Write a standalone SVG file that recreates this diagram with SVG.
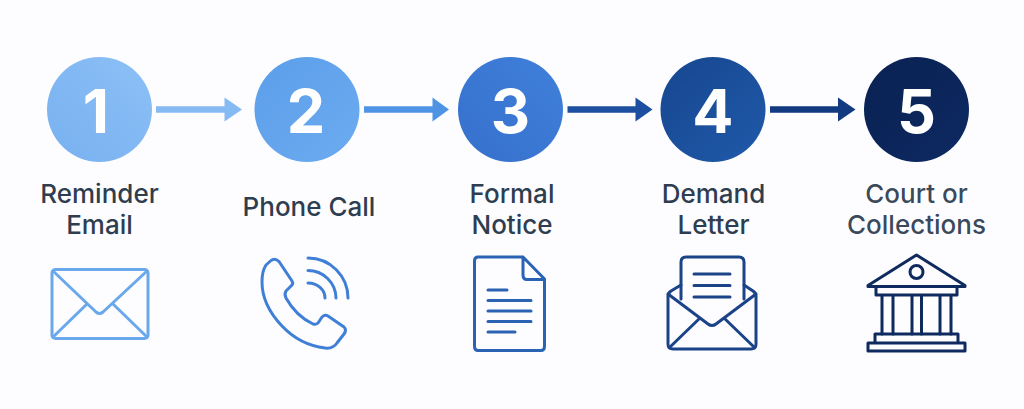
<svg xmlns="http://www.w3.org/2000/svg" width="1024" height="409" viewBox="0 0 1024 409">
<style>
.d{font-family:Inter,"Liberation Sans",sans-serif;font-weight:700;font-size:61px;fill:#fff;text-anchor:middle}
.l{font-family:Inter,"Liberation Sans",sans-serif;font-weight:500;font-size:26px;fill:#2f3d50;text-anchor:middle}
.i{fill:none;stroke-width:3;stroke-linecap:round;stroke-linejoin:round}
</style>
<defs>
<linearGradient id="g1" x1="0" y1="1" x2="1" y2="0"><stop offset="0" stop-color="#78b1f0"/><stop offset="1" stop-color="#8cc0f6"/></linearGradient>
<linearGradient id="g2" x1="0" y1="0" x2="1" y2="1"><stop offset="0" stop-color="#5b9eea"/><stop offset="1" stop-color="#6cabf0"/></linearGradient>
<linearGradient id="g3" x1="0" y1="1" x2="1" y2="0"><stop offset="0" stop-color="#3670cc"/><stop offset="1" stop-color="#3f80da"/></linearGradient>
<linearGradient id="g4" x1="0" y1="0" x2="1" y2="1"><stop offset="0" stop-color="#17468f"/><stop offset="1" stop-color="#1f5aaa"/></linearGradient>
<linearGradient id="g5" x1="0" y1="0" x2="1" y2="1"><stop offset="0" stop-color="#0a2152"/><stop offset="1" stop-color="#0d2a62"/></linearGradient>
</defs>
<rect width="1024" height="409" fill="#fdfdff"/>
<g id="connectors">
<path fill="#85baf3" d="M156 106.200H224.500V97.500L242 109.500L224.500 121.500V112.800H156Z"/>
<path fill="#4f93e4" d="M364 106.200H432.500V97.500L449 109.500L432.500 121.500V112.800H364Z"/>
<path fill="#1c4f9f" d="M567.500 106.200H635.500V97.500L652.500 109.500L635.500 121.500V112.800H567.500Z"/>
<path fill="#123a80" d="M770 106.200H838V97.500L855.500 109.500L838 121.500V112.800H770Z"/>
</g>
<g id="node1">
<circle cx="99.500" cy="109.500" r="52.500" fill="url(#g1)"/>
<text class="d" x="96" y="133">1</text>
<text class="l" x="99.500" y="203">Reminder</text>
<text class="l" x="99.500" y="234">Email</text>
<g class="i" stroke="#6aa8ec">
<rect x="52" y="269.500" width="96" height="69" rx="3.500"/>
<path d="M53 271L96 312Q99.500 315 103 312L147 271M53 337L87 304M147 337L113 304"/>
</g>
</g>
<g id="node2">
<circle cx="307" cy="109.500" r="52.500" fill="url(#g2)"/>
<text class="d" x="306" y="133">2</text>
<text class="l" x="309" y="215.500">Phone Call</text>
<g class="i" stroke="#3f7fd6">
<path d="M266 265L271 260.500Q275 257.500 279 261.500L292 281Q294 284 291 286L286 291Q284 294 286 298Q296 316 313 324Q316 325 318 323L322 317Q325 314 328 316L344 327Q347 330 344 334L337 343Q333 349 325 348Q300 345 282 326Q262 305 262 282Q262 271 266 265Z"/>
<path d="M308 258A40 40 0 0 1 348 298M308 270.500A28 28 0 0 1 336 298M308 283A17 15 0 0 1 325 298"/>
</g>
</g>
<g id="node3">
<circle cx="510.500" cy="109.500" r="52.500" fill="url(#g3)"/>
<text class="d" x="510.500" y="133">3</text>
<text class="l" x="512" y="203">Formal</text>
<text class="l" x="512" y="234">Notice</text>
<g class="i" stroke="#2a62b4">
<path d="M523 257H478Q474.500 257 474.500 261V346Q474.500 350.500 478 350.500H541Q544.500 350.500 544.500 346V279L523 257V275Q523 279.500 527 279.500H544.500"/>
<path d="M488 290H507M488 300.500H531M488 311H531M488 321.500H531M488 332H515"/>
</g>
</g>
<g id="node4">
<circle cx="713" cy="109.500" r="52.500" fill="url(#g4)"/>
<text class="d" x="713" y="133">4</text>
<text class="l" x="713.500" y="203">Demand</text>
<text class="l" x="713.500" y="234">Letter</text>
<g class="i" stroke="#1a4388">
<path d="M681 299V262Q681 257 686 257H739Q744 257 744 262V299"/>
<path d="M681 285L671 291Q668 293 668 296V344Q668 349 673 349H751Q756 349 756 344V296Q756 293 753 291L744 285"/>
<path d="M668 294L708 324Q712 327 716 324L756 294M670 347L700 318M754 347L724 318"/>
<path d="M694 274H730M694 285.500H730M694 297H730"/>
</g>
</g>
<g id="node5">
<circle cx="916.500" cy="109.500" r="52.500" fill="url(#g5)"/>
<text class="d" x="916.500" y="133">5</text>
<text class="l" x="916.500" y="203" fill-opacity=".95">Court or</text>
<text class="l" x="916.500" y="234" fill-opacity=".95">Collections</text>
<g class="i" stroke="#0f2a5e">
<path d="M916.500 255L965 285.500V286.500H868V285.500Z"/>
<circle cx="916.500" cy="272" r="6.500"/>
<path d="M876 287V295H957V287M882 295V334M893 295V334M912 295V334M921.500 295V334M940 295V334M951 295V334"/>
<path d="M875 343V334H958V343M868 343H965V351H868Z"/>
</g>
</g>
</svg>
